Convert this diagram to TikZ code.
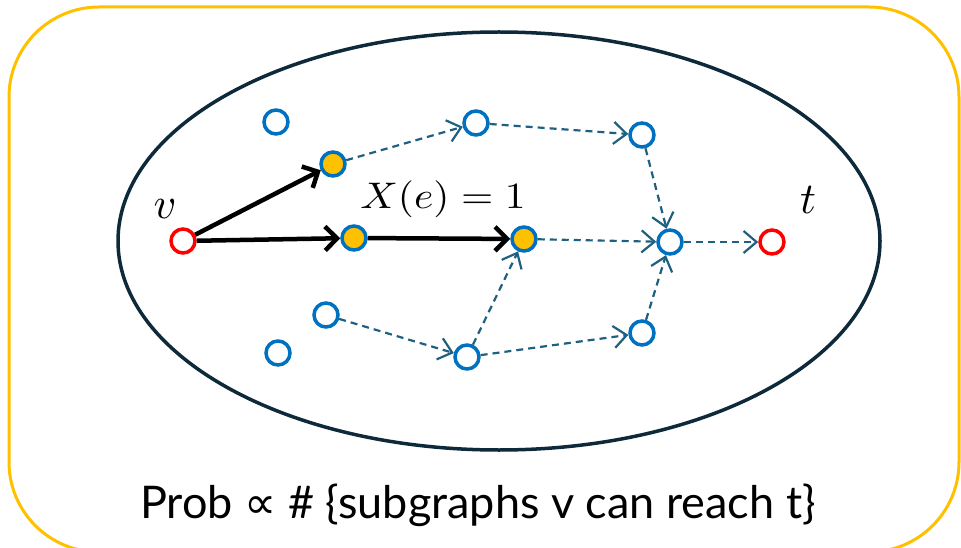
\documentclass[tikz,border=0pt]{standalone}
\usepackage{fontspec}
\setmainfont{Lato}
\newfontfamily\symf{DejaVu Sans}
\usetikzlibrary{arrows.meta}
\definecolor{boxyellow}{HTML}{FFC000}
\definecolor{nodeblue}{HTML}{0070C0}
\definecolor{ellcol}{HTML}{0E2A3A}
\definecolor{dashcol}{HTML}{1F5F7F}
\begin{document}
\begin{tikzpicture}[x=1pt,y=-1pt,
  vert/.style={circle,draw=nodeblue,line width=3.5pt,minimum size=24pt,inner sep=0pt,fill=white},
  filled/.style={vert,fill=boxyellow},
  endpt/.style={vert,draw=red},
  boldarrow/.style={line width=4.5pt,-{Straight Barb[length=12pt,width=24pt,line width=4.5pt]}},
  dasharrow/.style={draw=dashcol,line width=2.2pt,dash pattern=on 7pt off 5pt,
     -{Straight Barb[length=13pt,width=22pt,line width=2.2pt]}},
  mathlbl/.style={inner sep=0pt}
]
\useasboundingbox (0,0) rectangle (961,548);
\draw[boxyellow,line width=3pt,rounded corners=90pt] (9,7) rectangle (959,552);
\draw[ellcol,line width=3.5pt] (499,241) ellipse [x radius=381pt, y radius=209pt];

\node[endpt] (v) at (183,241) {};
\node[vert] (a1) at (276,122) {};
\node[filled] (o1) at (333,164) {};
\node[filled] (o2) at (354,238) {};
\node[filled] (o3) at (524,239) {};
\node[vert] (b1) at (476,123) {};
\node[vert] (b2) at (642,135) {};
\node[vert] (j) at (670,242) {};
\node[endpt] (t) at (772,242) {};
\node[vert] (b3) at (642,333) {};
\node[vert] (b4) at (467,357) {};
\node[vert] (l1) at (326,315) {};
\node[vert] (l2) at (278,353) {};

\node[mathlbl] (vl) at (165,209) {\scalebox{4.4}{$v$}};
\node[mathlbl] (tl) at (808,200) {\scalebox{4.4}{$t$}};
\node[inner sep=0pt,anchor=base] (xl) at (443,209) {\scalebox{4.15}[3.7]{$X(e)=1$}};

\draw[boldarrow] (v) -- (o1);
\draw[boldarrow] (v) -- (o2);
\draw[boldarrow] (o2) -- (o3);

\draw[dasharrow] (o1) -- (b1);
\draw[dasharrow] (b1) -- (b2);
\draw[dasharrow] (b2) -- (j);
\draw[dasharrow] (o3) -- (j);
\draw[dasharrow] (j) -- (t);
\draw[dasharrow] (l1) -- (b4);
\draw[dasharrow] (b4) -- (o3);
\draw[dasharrow] (b4) -- (b3);
\draw[dasharrow] (b3) -- (j);

\node[anchor=base,inner sep=0pt,font=\fontsize{45}{54}\selectfont] (cap) at (478,518) {Prob {\symf ∝} \# \{subgraphs v can reach t\}};
\end{tikzpicture}
\end{document}
